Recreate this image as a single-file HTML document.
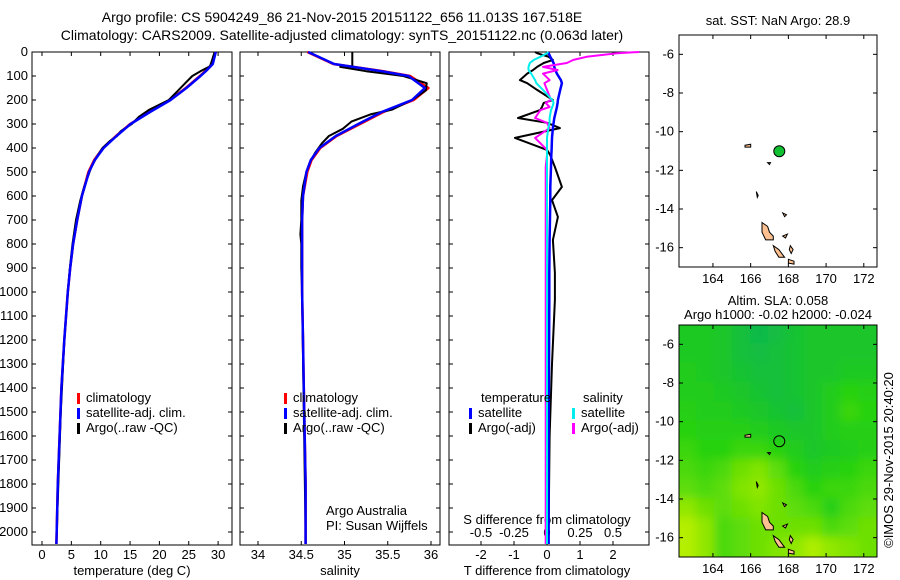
<!DOCTYPE html>
<html><head><meta charset="utf-8">
<style>
body{margin:0;background:#fff;}
svg{display:block;font-family:"Liberation Sans",sans-serif;}
text{font-size:13px;fill:#000;}
.title{font-size:14px;}
</style></head>
<body>
<svg id="fig" width="900" height="580" viewBox="0 0 900 580">
<defs><filter id="blur" x="-10%" y="-10%" width="120%" height="120%"><feGaussianBlur stdDeviation="5"/></filter>
<clipPath id="m2clip"><rect x="679" y="325" width="198" height="232"/></clipPath></defs>
<text class="title" x="342" y="22" text-anchor="middle">Argo profile: CS 5904249_86 21-Nov-2015 20151122_656 11.013S 167.518E</text>
<text class="title" x="342" y="40" text-anchor="middle">Climatology: CARS2009. Satellite-adjusted climatology: synTS_20151122.nc (0.063d later)</text>
<g id="g"></g>
</svg>
<script>
// ---- data ----
const depthClim=[0,50,80,100,150,200,250,300,350,400,450,500,600,700,800,900,1000,1200,1400,1600,1800,2000,2050];
const tempClim=[29.5,29.0,27.8,26.9,24.5,21.8,18.3,15.0,12.6,10.4,8.9,7.9,6.8,6.0,5.3,4.8,4.4,3.8,3.3,3.0,2.7,2.5,2.45];
const tempSat=[29.6,29.1,27.9,27.0,24.6,21.9,18.4,15.1,12.7,10.5,9.0,8.0,6.8,6.0,5.3,4.8,4.4,3.8,3.3,3.0,2.7,2.5,2.45];
const depthArgoT=[0,40,60,80,100,130,160,200,240,270,300,330,350,370,400,430,480,560,620,700,800,900,1000,1200,1500,2000,2050];
const tempArgo=[29.4,28.9,28.6,27.0,25.6,24.4,23.2,21.6,18.3,16.5,15.3,13.4,12.8,11.6,10.3,9.5,8.4,7.2,6.5,5.8,5.2,4.75,4.4,3.8,3.2,2.5,2.45];
const salClim=[34.57,34.87,35.45,35.76,35.97,35.8,35.45,35.18,34.91,34.72,34.62,34.57,34.52,34.51,34.51,34.51,34.51,34.52,34.53,34.54,34.55,34.55,34.55];
const salSat=[34.58,34.88,35.43,35.74,35.93,35.78,35.43,35.16,34.9,34.71,34.61,34.56,34.52,34.51,34.51,34.51,34.51,34.52,34.53,34.54,34.55,34.55,34.55];
const depthArgoS=[0,60,62,80,100,130,160,200,240,260,290,320,350,380,420,460,500,560,620,700,760,800,900,1000,1500,2000,2050];
const salArgo=[35.09,35.09,34.95,35.25,35.68,35.95,35.94,35.78,35.55,35.3,35.08,34.98,34.82,34.74,34.66,34.6,34.56,34.52,34.5,34.5,34.49,34.5,34.5,34.51,34.53,34.55,34.55];
const depthDiff=[0,5,20,33,46,62,75,90,117,130,158,200,212,229,242,275,295,317,358,408,430,479,562,617,687,783,921,1033,1300,1600,2000,2050];
const tDiffSat=[0.05,0.05,0.1,0.15,0.2,0.22,0.25,0.3,0.42,0.45,0.4,0.33,0.32,0.3,0.28,0.22,0.2,0.18,0.15,0.14,0.13,0.12,0.1,0.1,0.09,0.08,0.07,0.07,0.06,0.05,0.05,0.05];
const tDiffArgo=[-0.36,-0.3,0.05,0.18,-0.1,-0.3,-0.42,-0.6,-0.82,-0.6,-0.3,0.18,-0.1,-0.15,-0.21,-0.88,0.0,0.39,-0.97,0.0,0.1,0.24,0.45,0.15,0.33,0.18,0.24,0.24,0.15,0.08,0.05,0.05];
const sDiffSat=[0.01,0.0,-0.05,-0.1,-0.13,-0.14,-0.14,-0.12,-0.09,-0.08,-0.03,0.04,0.05,0.04,0.03,0.02,0.02,0.01,0.0,0.0,0.0,0.0,0.0,0.0,0.0,0.0,0.0,0.0,0.0,0.0,0.0,0.0];
const sDiffArgo=[0.7,0.53,0.3,0.2,0.15,-0.03,0.08,-0.03,0.02,-0.02,0.0,0.03,-0.01,0.02,-0.05,-0.09,0.0,0.02,-0.09,0.0,0.0,-0.01,-0.01,-0.01,-0.01,-0.01,-0.01,-0.01,-0.01,-0.01,-0.01,-0.01];
const depthTicks=[0,100,200,300,400,500,600,700,800,900,1000,1100,1200,1300,1400,1500,1600,1700,1800,1900,2000];
const tempTicks=[0,5,10,15,20,25,30];
const salTicks=[34,34.5,35,35.5,36];
const tdTicks=[-2,-1,0,1,2];
const tdLabels=["-2","-1","0","1","2"];
const sdTicks=[-0.5,-0.25,0,0.25,0.5];
const sdLabels=["-0.5","-0.25","0","0.25","0.5"];
const lonTicks=[164,166,168,170,172];
const latTicks=[-6,-8,-10,-12,-14,-16];
const argoLon=167.518, argoLat=-11.013;
const slaGrid=[
[0.35,0.35,0.3,0.2,0.1,0.15,0.25,0.3,0.3,0.3,0.3],
[0.35,0.35,0.3,0.2,0.15,0.2,0.25,0.3,0.3,0.3,0.3],
[0.4,0.35,0.3,0.25,0.2,0.2,0.25,0.3,0.3,0.35,0.35],
[0.4,0.4,0.35,0.3,0.25,0.2,0.25,0.3,0.4,0.5,0.45],
[0.45,0.4,0.4,0.35,0.3,0.25,0.2,0.3,0.4,0.55,0.5],
[0.5,0.45,0.45,0.45,0.4,0.35,0.3,0.3,0.4,0.45,0.45],
[0.55,0.5,0.5,0.55,0.55,0.5,0.4,0.3,0.35,0.4,0.45],
[0.6,0.55,0.6,0.7,0.75,0.65,0.5,0.4,0.45,0.5,0.55],
[0.65,0.6,0.65,0.75,0.8,0.7,0.6,0.5,0.55,0.55,0.6],
[0.8,0.7,0.65,0.7,0.75,0.7,0.65,0.6,0.45,0.6,0.65],
[0.9,0.8,0.6,0.65,0.7,0.7,0.7,0.7,0.6,0.65,0.7],
[0.9,0.8,0.6,0.65,0.7,0.75,0.8,0.88,0.8,0.75,0.7]];
const islands=[
[[166.6,-14.7],[166.9,-14.9],[167.0,-15.2],[167.2,-15.4],[167.2,-15.6],[166.8,-15.6],[166.6,-15.2]],
[[167.2,-15.9],[167.5,-16.1],[167.8,-16.5],[167.5,-16.5],[167.3,-16.2]],
[[168.0,-16.6],[168.3,-16.7],[168.3,-16.85],[168.0,-16.8]],
[[168.1,-15.9],[168.25,-16.1],[168.15,-16.3],[168.05,-16.1]],
[[167.7,-15.4],[167.95,-15.3],[167.85,-15.5]],
[[167.7,-14.2],[167.9,-14.3],[167.8,-14.4]],
[[165.7,-10.7],[166.0,-10.65],[166.0,-10.8],[165.7,-10.8]],
[[166.9,-11.6],[167.05,-11.6],[167.0,-11.7]],
[[166.3,-13.1],[166.4,-13.3],[166.35,-13.4]]];
// ---- drawing ----
const NS="http://www.w3.org/2000/svg";
const G=document.getElementById('g');
function mk(tag,attrs,parent){const e=document.createElementNS(NS,tag);for(const k in attrs)e.setAttribute(k,attrs[k]);(parent||G).appendChild(e);return e;}
function txt(x,y,s,anchor,parent){const e=mk('text',{x:x,y:y,'text-anchor':anchor||'start'},parent);e.textContent=s;return e;}
const PT=52,PB=545;
function yD(d){return 52+d*0.24;}
const xT=v=>42+v*5.87, xS=v=>258+(v-34)*86.5, xTD=v=>547+v*33, xSD=v=>547+v*132;
function panel(x0,name){const r=mk('rect',{x:x0,y:PT,width:200,height:PB-PT,fill:'none',stroke:'#000'});}
function line(xs,ds,fx,col,w,name){let p='';for(let i=0;i<xs.length;i++)p+=(i?'L':'M')+fx(xs[i]).toFixed(1)+','+yD(ds[i]).toFixed(1);const e=mk('path',{d:p,fill:'none',stroke:col,'stroke-width':w,'stroke-linejoin':'round'});}
function xticks(ticks,labels,fx,y){ticks.forEach((t,i)=>{const x=fx(t);mk('line',{x1:x,x2:x,y1:PB,y2:PB-4,stroke:'#000'});mk('line',{x1:x,x2:x,y1:PT,y2:PT+4,stroke:'#000'});const e=txt(x,y,labels[i],'middle');});}
panel(32,'temperature-panel');panel(240,'salinity-panel');panel(449,'difference-panel');
depthTicks.forEach(d=>{const y=yD(d);mk('line',{x1:32,x2:36,y1:y,y2:y,stroke:'#000'});mk('line',{x1:228,x2:232,y1:y,y2:y,stroke:'#000'});mk('line',{x1:240,x2:244,y1:y,y2:y,stroke:'#000'});mk('line',{x1:436,x2:440,y1:y,y2:y,stroke:'#000'});mk('line',{x1:449,x2:453,y1:y,y2:y,stroke:'#000'});mk('line',{x1:645,x2:649,y1:y,y2:y,stroke:'#000'});const e=txt(28,y+4,String(d),'end');});
xticks(tempTicks,tempTicks.map(String),xT,559);
xticks(salTicks,salTicks.map(String),xS,559);
xticks(tdTicks,tdLabels,xTD,559);
sdTicks.forEach((t,i)=>{const e=txt(xSD(t),537,sdLabels[i],'middle');});
let e;
e=txt(132,575,'temperature (deg C)','middle');
e=txt(340,575,'salinity','middle');
e=txt(547,575,'T difference from climatology','middle');
e=txt(547,524,'S difference from climatology','middle');
line(tempClim,depthClim,xT,'#f00',2.5,'temp-climatology-line');
line(tempArgo,depthArgoT,xT,'#000',2,'temp-argo-line');
line(tempSat,depthClim,xT,'#00f',2.5,'temp-satellite-line');
line(salClim,depthClim,xS,'#f00',2.5,'sal-climatology-line');
line(salArgo,depthArgoS,xS,'#000',2,'sal-argo-line');
line(salSat,depthClim,xS,'#00f',2.5,'sal-satellite-line');
line(tDiffArgo,depthDiff,xTD,'#000',2,'t-diff-argo-line');
line(tDiffSat,depthDiff,xTD,'#00f',2.5,'t-diff-satellite-line');
line(sDiffArgo,depthDiff,xSD,'#f0f',2,'s-diff-argo-line');
line(sDiffSat,depthDiff,xSD,'#0ee',2,'s-diff-satellite-line');
function legend(x,y,col,s,name){const r=mk('rect',{x:x,y:y-9,width:3,height:11,fill:col});const t=txt(x+9,y,s);}
[[77,'climatology'],[284,'climatology']].forEach(a=>legend(a[0],402,'#f00',a[1],'legend-climatology'));
[77,284].forEach(x=>{legend(x,417,'#00f','satellite-adj. clim.','legend-satellite');legend(x,432,'#000','Argo(..raw -QC)','legend-argo');});
e=txt(481,402,'temperature');
e=txt(583,402,'salinity');
legend(469,417,'#00f','satellite','legend-t-satellite');legend(469,432,'#000','Argo(-adj)','legend-t-argo');
legend(572,417,'#0ee','satellite','legend-s-satellite');legend(572,432,'#f0f','Argo(-adj)','legend-s-argo');
e=txt(326,515,'Argo Australia');
e=txt(326,530,'PI: Susan Wijffels');
// maps
const LON0=162.2,LON1=172.7,LAT0=-5.0,LAT1=-17.0,MX=679,MW=198,MH=232;
function mapX(l){return MX+(l-LON0)/(LON1-LON0)*MW;}
function mapY(t,top){return top+(LAT0-t)/(LAT0-LAT1)*MH;}
function col(v){const a=[10,180,90],b=[40,210,10],c=[215,245,0];let p,q,t;if(v<0.5){p=a;q=b;t=v/0.5;}else{p=b;q=c;t=(v-0.5)/0.5;}return 'rgb('+p.map((x,i)=>Math.round(x+(q[i]-x)*t)).join(',')+')';}
function map(top,name,title1,title2,field){
  if(field){const gg=mk('g',{'clip-path':'url(#m2clip)'});const gb=mk('g',{filter:'url(#blur)'},gg);
    const cw=(LON1-LON0)/slaGrid[0].length, ch=(LAT0-LAT1)/slaGrid.length;
    const nr=slaGrid.length,nc=slaGrid[0].length;
    slaGrid.forEach((row,r)=>row.forEach((v,c)=>{let x=mapX(LON0+c*cw),y=mapY(LAT0-r*ch,top);let x2=mapX(LON0+(c+1)*cw),y2=mapY(LAT0-(r+1)*ch,top);
      if(c===0)x-=15;if(r===0)y-=15;if(c===nc-1)x2+=15;if(r===nr-1)y2+=15;
      const cell=mk('rect',{x:x-1,y:y-1,width:x2-x+2,height:y2-y+2,fill:col(v)},gb);}));}
  islands.forEach(poly=>{const p=mk('polygon',{points:poly.map(q=>mapX(q[0]).toFixed(1)+','+mapY(q[1],top).toFixed(1)).join(' '),fill:'#fdc090',stroke:'#000','stroke-width':1});});
  const c=mk('circle',{cx:mapX(argoLon),cy:mapY(argoLat,top),r:5.5,fill:field?'none':'#10c030',stroke:'#000'});
  const r=mk('rect',{x:MX,y:top,width:MW,height:MH,fill:'none',stroke:'#000'});
  lonTicks.forEach(l=>{const x=mapX(l);mk('line',{x1:x,x2:x,y1:top,y2:top+4,stroke:'#000'});mk('line',{x1:x,x2:x,y1:top+MH,y2:top+MH-4,stroke:'#000'});const t=txt(x,top+MH+16,String(l),'middle');});
  latTicks.forEach(l=>{const y=mapY(l,top);mk('line',{x1:MX,x2:MX+4,y1:y,y2:y,stroke:'#000'});mk('line',{x1:MX+MW,x2:MX+MW-4,y1:y,y2:y,stroke:'#000'});const t=txt(MX-5,y+4,String(l),'end');});
  let t=txt(778,top-(title2?20:10),title1,'middle');
  if(title2){t=txt(778,top-6,title2,'middle');}
}
map(35,'sst-map','sat. SST: NaN Argo: 28.9',null,false);
map(325,'sla-map','Altim. SLA: 0.058','Argo h1000: -0.02 h2000: -0.024',true);
e=txt(0,0,'©IMOS 29-Nov-2015 20:40:20','middle');e.setAttribute('transform','translate(893,460) rotate(-90)');
</script>
</body></html>
